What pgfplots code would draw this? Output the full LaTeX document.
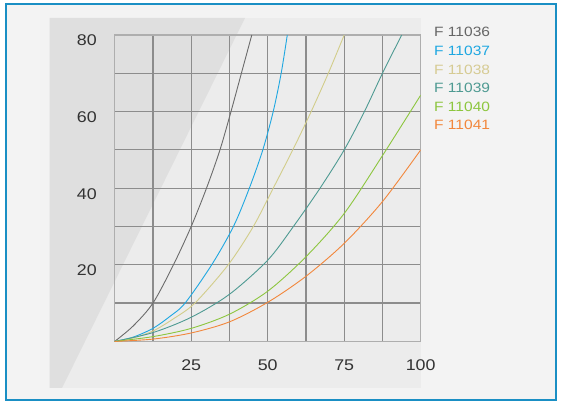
\documentclass[border=0pt]{standalone}
\usepackage{fontspec}
\setmainfont{Liberation Sans}[FakeStretch=1.15]
\usepackage{pgfplots}
\pgfplotsset{compat=1.18}
\definecolor{frameblue}{HTML}{1A8FC4}
\definecolor{framefill}{HTML}{F3F3F3}
\definecolor{panellight}{HTML}{ECECEC}
\definecolor{paneldark}{HTML}{DFDFDF}
\definecolor{gridgray}{HTML}{8C8C8C}
\definecolor{cA}{HTML}{6B6B6B}
\definecolor{cB}{HTML}{1EA7E1}
\definecolor{cC}{HTML}{D2CD8A}
\definecolor{cD}{HTML}{4E9A92}
\definecolor{cE}{HTML}{8DC63F}
\definecolor{cF}{HTML}{F2873C}
\definecolor{tA}{HTML}{666666}
\definecolor{tC}{HTML}{D6CB93}
\begin{document}
\begin{tikzpicture}[x=1pt,y=1pt]
\fill[white] (0,0) rectangle (562,406);
\filldraw[fill=framefill,draw=frameblue,line width=2pt] (5.5,6) rectangle (555.5,402);
\fill[panellight] (49.5,18) rectangle (421,388);
\fill[paneldark] (49.5,18) -- (49.5,388) -- (245,388) -- (62,18) -- cycle;
\begin{axis}[
  at={(114.7pt,64.6pt)}, anchor=south west,
  scale only axis, width=306pt, height=306.4pt,
  xmin=0, xmax=100, ymin=0, ymax=80,
  xtick={25,50,75,100}, ytick={20,40,60,80},
  minor xtick={12.5,37.5,62.5,87.5}, minor ytick={10,30,50,70},
  grid=both,
  major grid style={gridgray,line width=1.2pt},
  minor grid style={gridgray,line width=1.2pt},
  axis line style={gridgray!70,line width=1.2pt},
  tick style={draw=none},
  /pgf/number format/assume math mode=true,
  xticklabel style={font=\fontsize{15.5}{18}\selectfont, text=black!80, anchor=center, inner sep=0pt, yshift=-23.6pt},
  yticklabel style={font=\fontsize{15.5}{18}\selectfont, text=black!80, anchor=east, inner sep=0pt, xshift=-17.7pt, yshift=-5.5pt},
  every axis plot/.append style={line width=0.9pt, no marks},
]
\addplot[cA, smooth] coordinates {(0,0) (6,4) (12.5,10) (19.2,20) (25,30) (30,40) (34.4,50) (38,60) (41.4,70) (44.8,80)};
\addplot[cB, smooth] coordinates {(0,0) (6,1.1) (12.5,3.4) (18,6.5) (23,10) (31.7,20) (38.8,30) (44,40) (48.4,50) (51.8,60) (54.4,70) (56.4,80)};
\addplot[cC, smooth] coordinates {(0,0) (6,0.9) (12.5,2.7) (19,5.8) (26.2,10) (37.1,20) (45.3,30) (51.8,40) (58.2,50) (64.2,60) (69.8,70) (75,80)};
\addplot[cD, smooth] coordinates {(0,0) (12.5,2.3) (25,6.3) (37.5,12.3) (50,21.2) (58.4,30) (67.1,40) (75,50) (81.6,60) (87.5,70) (93.8,80)};
\addplot[cE, smooth] coordinates {(0,0) (12.5,1.25) (25,3.4) (37.5,7.1) (50,13.1) (62.5,22.1) (75,33.4) (87.5,48.5) (100,64.3)};
\addplot[cF, smooth] coordinates {(0,0) (12.5,0.6) (25,2.2) (37.5,5.1) (50,10.2) (62.5,17) (75,25.6) (87.5,36.5) (100,50)};
\end{axis}
\begin{scope}[every node/.style={anchor=west,inner sep=0pt,font=\fontsize{13.5}{16}\selectfont}]
\node[text=tA] at (434,374) {F 11036};
\node[text=cB] at (434,355.5) {F 11037};
\node[text=tC] at (434,336.5) {F 11038};
\node[text=cD] at (434,318) {F 11039};
\node[text=cE] at (434,299.5) {F 11040};
\node[text=cF] at (434,281) {F 11041};
\end{scope}
\end{tikzpicture}
\end{document}
